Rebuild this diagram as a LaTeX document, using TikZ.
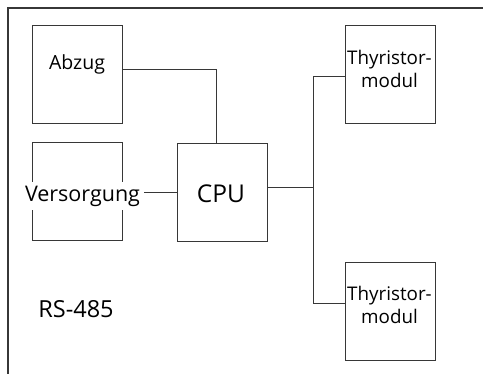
\documentclass[tikz,border=0pt]{standalone}
\usepackage{fontspec}
\setmainfont{Open Sans}
\usetikzlibrary{positioning}
\definecolor{ink}{RGB}{55,55,55}

\begin{document}
\begin{tikzpicture}[x=1pt,y=-1pt,line width=0.9pt,
    modbox/.style={draw=ink,minimum width=90pt,minimum height=98pt,inner sep=0pt},
    lbl/.style={font=\fontsize{19.5}{24}\selectfont,text=black,inner sep=0pt,align=center},
    wire/.style={draw=ink,line width=0.9pt}]
  \useasboundingbox (0,0) rectangle (483,374);
  % frame
  \draw[ink,line width=1.2pt] (483,8) -- (8,8) -- (8,374);
  % modules
  \node[modbox] (abzug) at (77,74) {};
  \node[modbox] (versorgung) at (77,191) {};
  \node[modbox] (cpu) at (222.5,192) {};
  \node[modbox] (thyA) at (390,74) {};
  \node[modbox] (thyB) at (390,311.5) {};
  % labels
  \node[lbl,anchor=base] (abzugtxt) at (77,70) {Abzug};
  \node[lbl,anchor=base,font=\fontsize{21.5}{26}\selectfont,fill=white,inner xsep=4pt,text depth=8pt,text height=20pt] (versorgungtxt) at (82.5,202) {Versorgung};
  \node[lbl,anchor=base,font=\fontsize{24.5}{28}\selectfont] (cputxt) at (221,203) {CPU};
  \node[lbl,font=\fontsize{18.8}{23.5}\selectfont] (thyAtxt) at (389.5,69) {Thyristor-\\modul};
  \node[lbl,font=\fontsize{18.8}{23.5}\selectfont] (thyBtxt) at (389.5,305) {Thyristor-\\modul};
  \node[lbl,anchor=base,font=\fontsize{23.5}{28}\selectfont] (rstxt) at (76,318) {RS-485};
  % connectors
  \coordinate (bus) at (313,187);
  \draw[wire] ([yshift=5pt]abzug.east) -| ([xshift=-6pt]cpu.north);
  \draw[wire] (versorgungtxt.east |- cpu.west) -- (cpu.west);
  \draw[wire] ([yshift=5pt]cpu.east) -- (bus);
  \draw[wire] (bus) |- ([yshift=-2pt]thyA.west);
  \draw[wire] (bus) |- ([yshift=8.5pt]thyB.west);
\end{tikzpicture}
\end{document}
